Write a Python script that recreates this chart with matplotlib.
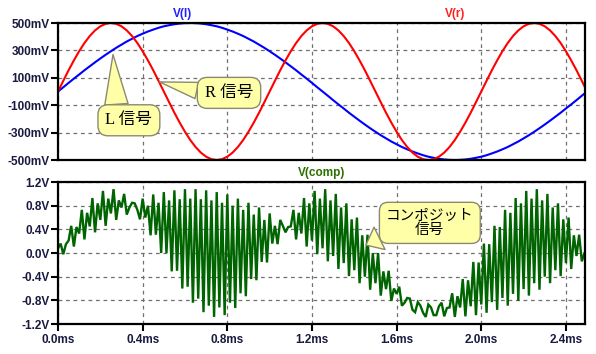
import numpy as np
import matplotlib
matplotlib.use("Agg")
import matplotlib.pyplot as plt

plt.rcParams['font.family'] = ['Liberation Sans', 'Noto Sans CJK JP', 'DejaVu Sans']

# ---------------- data ----------------
dt_top = 0.025   # ms between samples of V(l), V(r)
v_l = [0, .031, .063, .094, .124, .155, .184, .213, .241, .268, .294, .319, .342, .365, .385, .405,
       .422, .438, .452, .465, .476, .484, .491, .496, .499, .5,
       .499, .496, .491, .484, .476, .465, .452, .438, .422, .405, .385, .365, .342, .319, .294,
       .268, .241, .213, .184, .155, .124, .094, .063, .031, 0,
       -.031, -.063, -.094, -.124, -.155, -.184, -.213, -.241, -.268, -.294, -.319, -.342, -.365,
       -.385, -.405, -.422, -.438, -.452, -.465, -.476, -.484, -.491, -.496, -.499, -.5,
       -.499, -.496, -.491, -.484, -.476, -.465, -.452, -.438, -.422, -.405, -.385, -.365, -.342,
       -.319, -.294, -.268, -.241, -.213, -.184, -.155, -.124, -.094, -.063, -.031, 0]
v_r = [0, .078, .155, .227, .294, .354, .405, .446, .476, .494, .5,
       .494, .476, .446, .405, .354, .294, .227, .155, .078, 0,
       -.078, -.155, -.227, -.294, -.354, -.405, -.446, -.476, -.494, -.5,
       -.494, -.476, -.446, -.405, -.354, -.294, -.227, -.155, -.078, 0,
       .078, .155, .227, .294, .354, .405, .446, .476, .494, .5,
       .494, .476, .446, .405, .354, .294, .227, .155, .078, 0,
       -.078, -.155, -.227, -.294, -.354, -.405, -.446, -.476, -.494, -.5,
       -.494, -.476, -.446, -.405, -.354, -.294, -.227, -.155, -.078, 0,
       .078, .155, .227, .294, .354, .405, .446, .476, .494, .5,
       .494, .476, .446, .405, .354, .294, .227, .155, .078, 0]

# composite: subcarrier swings, sampled at its extremes
dt_comp = 0.025          # ms between successive "A" extremes (B extremes lie halfway)
comp_a = [.08, -.02, .21, .11, .33, .23, .45, .35, .56, .46, .67, .56, .77, .65, .85, .73, .92, .80,
          .99, .85, 1.03, .89, 1.06, .91, 1.08, .92, 1.08, .91, 1.06, .89, 1.03, .85, .99, .80, .92,
          .73, .85, .65, .77, .56, .67, .46, .56, .35, .45, .23, .33, .11, .21, -.02, .08,
          -.14, -.05, -.27, -.17, -.39, -.29, -.51, -.40, -.62, -.51, -.72, -.61, -.81, -.69, -.89,
          -.76, -.96, -.83, -1.01, -.87, -1.05, -.90, -1.07, -.92, -1.08, -.92, -1.07, -.90, -1.05,
          -.87, -1.01, -.83, -.96, -.76, -.89, -.69, -.81, -.61, -.72, -.51, -.62, -.40, -.51, -.29,
          -.39, -.17, -.27, -.05, -.14, .08]
comp_b = [.16, .15, .46, .44, .73, .68, .93, .84, 1.05, .92, 1.08, .89, 1.00, .77, .84, .57, .60, .30,
          .31, .00, .00, -.31, -.30, -.60, -.57, -.84, -.77, -1.00, -.89, -1.08, -.92, -1.05, -.84,
          -.93, -.68, -.73, -.44, -.46, -.15, -.16,
          .16, .15, .46, .44, .73, .68, .93, .84, 1.05, .92, 1.08, .89, 1.00, .77, .84, .57, .60, .30,
          .31, .00, .00, -.31, -.30, -.60, -.57, -.84, -.77, -1.00, -.89, -1.08, -.92, -1.05, -.84,
          -.93, -.68, -.73, -.44, -.46, -.15, -.16,
          .16, .15, .46, .44, .73, .68, .93, .84, 1.05, .92, 1.08, .89, 1.00, .77, .84, .57, .60, .30,
          .31, .00]

x_ticks = [0.0, 0.4, 0.8, 1.2, 1.6, 2.0, 2.4]
x_ticklabels = ['0.0ms', '0.4ms', '0.8ms', '1.2ms', '1.6ms', '2.0ms', '2.4ms']
top_yticks = [0.5, 0.3, 0.1, -0.1, -0.3, -0.5]
top_yticklabels = ['500mV', '300mV', '100mV', '-100mV', '-300mV', '-500mV']
bot_yticks = [1.2, 0.8, 0.4, 0.0, -0.4, -0.8, -1.2]
bot_yticklabels = ['1.2V', '0.8V', '0.4V', '0.0V', '-0.4V', '-0.8V', '-1.2V']

t_top = np.arange(len(v_l)) * dt_top
t_a = np.arange(len(comp_a)) * dt_comp
t_b = np.arange(len(comp_b)) * dt_comp + dt_comp / 2
t_comp = np.concatenate([t_a, t_b])
v_comp = np.concatenate([comp_a, comp_b])
order = np.argsort(t_comp, kind='stable')
t_comp, v_comp = t_comp[order], v_comp[order]

# ---------------- styling ----------------
LABEL_C = '#1a1a40'
fig = plt.figure(figsize=(5.96, 3.54), dpi=100)
ax1 = fig.add_axes([0.0973, 0.548, 0.8842, 0.387])
ax2 = fig.add_axes([0.0973, 0.0847, 0.8842, 0.401])

for ax in (ax1, ax2):
    ax.set_xlim(0, 2.49)
    for s in ax.spines.values():
        s.set_linewidth(1.6)
        s.set_color('black')
    ax.grid(True, color='#707070', linestyle=(0, (3, 3)), linewidth=0.9)
    ax.set_axisbelow(True)
    ax.set_xticks(x_ticks)
    ax.tick_params(axis='y', direction='out', length=5, width=1.5, pad=1,
                   labelsize=8.5, labelcolor=LABEL_C)

ax1.set_ylim(-0.5, 0.5)
ax1.set_yticks(top_yticks)
ax1.set_yticklabels(top_yticklabels, fontweight='bold')
ax1.tick_params(axis='x', length=0, labelbottom=False)

ax2.set_ylim(-1.2, 1.2)
ax2.set_yticks(bot_yticks)
ax2.set_yticklabels(bot_yticklabels, fontweight='bold')
ax2.set_xticklabels(x_ticklabels, fontweight='bold')
ax2.tick_params(axis='x', direction='out', length=5, width=1.5, pad=2,
                labelsize=8.5, labelcolor=LABEL_C)

ax1.plot(t_top, v_l, color='#0000ff', lw=1.5, solid_joinstyle='miter')
ax1.plot(t_top, v_r, color='#ff0000', lw=1.5, solid_joinstyle='miter')
ax2.plot(t_comp, v_comp, color='#006400', lw=1.7, solid_joinstyle='miter')

ax1.text(0.237, 1.02, 'V(l)', transform=ax1.transAxes, ha='center', va='bottom',
         color='#2020ff', fontsize=8.5, fontweight='bold')
ax1.text(0.753, 1.02, 'V(r)', transform=ax1.transAxes, ha='center', va='bottom',
         color='#ff2020', fontsize=8.5, fontweight='bold')
ax2.text(0.5, 1.02, 'V(comp)', transform=ax2.transAxes, ha='center', va='bottom',
         color='#2a7000', fontsize=8.5, fontweight='bold')

FC, EC = '#ffffa8', '#8a8a70'
box = dict(boxstyle='round,pad=0.45,rounding_size=0.6', fc=FC, ec=EC, lw=1)
fam = ['Liberation Serif', 'Noto Sans CJK JP']

ax1.annotate('L 信号', xy=(0.26, 0.27), xytext=(0.335, -0.21), textcoords='data',
             ha='center', va='center', fontsize=12, family=fam, bbox=box, zorder=10,
             arrowprops=dict(arrowstyle='wedge,tail_width=0.7,shrink_factor=0.5',
                             mutation_scale=24, shrinkA=0, shrinkB=0,
                             fc=FC, ec=EC, lw=1, relpos=(0.25, 0.8)))
ax1.annotate('R 信号', xy=(0.48, 0.07), xytext=(0.808, -0.01), textcoords='data',
             ha='center', va='center', fontsize=12, family=fam, bbox=box, zorder=10,
             arrowprops=dict(arrowstyle='wedge,tail_width=0.5,shrink_factor=0.5',
                             mutation_scale=24, shrinkA=0, shrinkB=0,
                             fc=FC, ec=EC, lw=1, relpos=(0.12, 0.45)))
ax2.annotate('コンポジット\n信号', xy=(1.455, 0.135), xytext=(1.757, 0.51), textcoords='data',
             ha='center', va='center', fontsize=10.5, family=['Noto Sans CJK JP'],
             linespacing=1.0, bbox=box, zorder=10,
             arrowprops=dict(arrowstyle='wedge,tail_width=0.75,shrink_factor=0.5',
                             mutation_scale=24, shrinkA=0, shrinkB=0,
                             fc=FC, ec=EC, lw=1, relpos=(0.22, 0.4)))

fig.savefig('out.png', dpi=100)
